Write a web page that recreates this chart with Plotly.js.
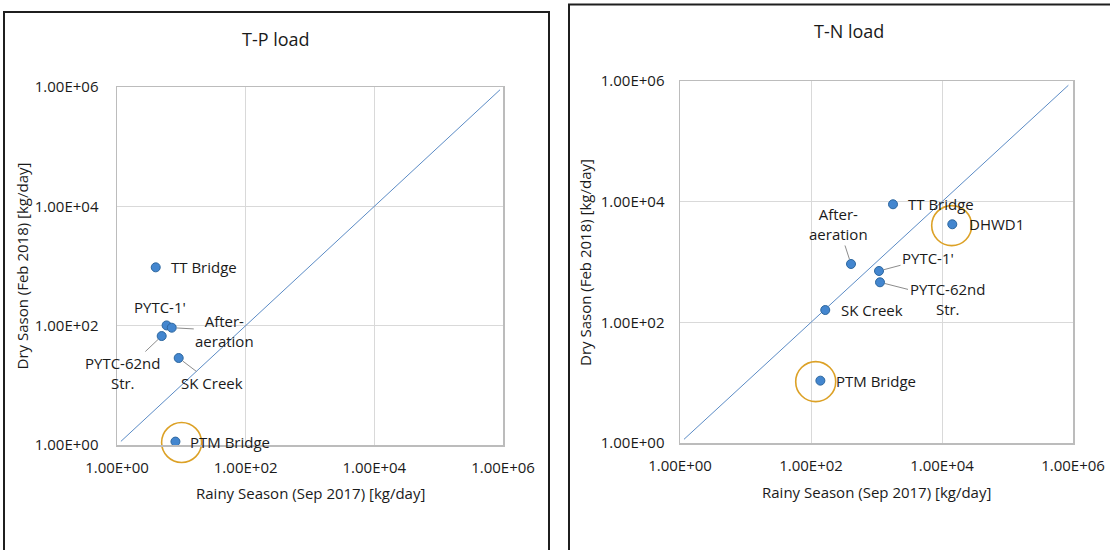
<!DOCTYPE html>
<html>
<head>
<meta charset="utf-8">
<script src="https://cdn.plot.ly/plotly-3.0.1.min.js"></script>
<style>
html,body{margin:0;padding:0;background:#fff;}
#chart{width:1110px;height:550px;}
</style>
</head>
<body>
<div id="chart"></div>
<script>
// ---- data (kg/day) ----
const tpSites  = ['TT Bridge', "PYTC-1'", 'After-aeration', 'PYTC-62nd Str.', 'SK Creek', 'PTM Bridge'];
const tpLabels = ['TT Bridge', "PYTC-1'", 'After-<br>aeration', 'PYTC-62nd<br>Str.', 'SK Creek', 'PTM Bridge'];
const tpRainy  = [4.0, 5.9, 7.1, 4.95, 9.1, 8.1];
const tpDry    = [950, 101, 92.5, 67, 28.7, 1.14];

const tnSites  = ['TT Bridge', 'DHWD1', 'After-aeration', "PYTC-1'", 'PYTC-62nd Str.', 'SK Creek', 'PTM Bridge'];
const tnLabels = ['TT Bridge', 'DHWD1', 'After-<br>aeration', "PYTC-1'", 'PYTC-62nd<br>Str.', 'SK Creek', 'PTM Bridge'];
const tnRainy  = [1786, 14360, 408, 1092, 1131, 165, 139];
const tnDry    = [9050, 4220, 927, 710, 461, 160, 10.8];

// highlighted sites (circled)
const tpHighlightRainy = [10.1];
const tpHighlightDry   = [1.1];
const tnHighlightRainy = [118, 14060];
const tnHighlightDry   = [10.4, 4015];

// 1:1 reference line
const tpDiag = [1.15, 9.0e5];
const tnDiag = [1.15, 8.5e5];

const tickVals   = [1, 100, 1e4, 1e6];
const tickLabels = ['1.00E+00', '1.00E+02', '1.00E+04', '1.00E+06'];

// ---- label placement (style only, pixel offsets) ----
const tpLabelStyle = [
  {mode:'side', dx:13, dy:0},
  {mode:'free', dx:-7, dy:-18},
  {mode:'arrow', dx:53, dy:3},
  {mode:'arrow', dx:-39, dy:37},
  {mode:'arrow', dx:33, dy:25},
  {mode:'side', dx:13, dy:0}
];
const tnLabelStyle = [
  {mode:'side', dx:13, dy:0},
  {mode:'side', dx:15, dy:0},
  {mode:'arrow', dx:-13, dy:-40},
  {mode:'arrow', dx:49, dy:-13},
  {mode:'arrow', dx:67, dy:17},
  {mode:'side', dx:14, dy:0},
  {mode:'side', dx:14, dy:0}
];

const W = 1110, H = 550;
const TXT = '#1a1a1a';
const FONT = 'Open Sans, Noto Sans, sans-serif';
const dotColor = '#4386cf', dotEdge = '#2d679f';
const diagColor = '#5b8bc5';
const ringColor = '#dca126';

function px(x){ return x / W; }
function py(y){ return 1 - y / H; }

function buildTraces(xr, yr, rainy, dry, hiR, hiD, diag, names){
  return [
    {x: diag, y: diag, xaxis: xr, yaxis: yr, mode: 'lines', type: 'scatter',
     line: {color: diagColor, width: 1}, hoverinfo: 'skip', showlegend: false},
    {x: rainy, y: dry, xaxis: xr, yaxis: yr, mode: 'markers', type: 'scatter', text: names,
     cliponaxis: false,
     marker: {color: dotColor, size: 9, line: {color: dotEdge, width: 1}}, showlegend: false},
    {x: hiR, y: hiD, xaxis: xr, yaxis: yr, mode: 'markers', type: 'scatter',
     cliponaxis: false,
     marker: {symbol: 'circle-open', size: 40, color: ringColor, line: {width: 1.6, color: ringColor}},
     hoverinfo: 'skip', showlegend: false}
  ];
}

function buildLabels(xr, yr, rainy, dry, labels, style){
  return labels.map((t, i) => {
    const s = style[i];
    const base = {xref: xr, yref: yr, x: Math.log10(rainy[i]), y: Math.log10(dry[i]), text: t,
      font: {family: FONT, size: 15, color: TXT}};
    if (s.mode === 'arrow') {
      return Object.assign(base, {showarrow: true, arrowhead: 0, arrowwidth: 1, arrowcolor: '#8c8c8c',
        ax: s.dx, ay: s.dy, standoff: 5, align: 'center'});
    } else if (s.mode === 'side') {
      return Object.assign(base, {showarrow: false, xanchor: 'left', yanchor: 'middle', xshift: s.dx, yshift: -s.dy});
    } else {
      return Object.assign(base, {showarrow: false, xanchor: 'center', yanchor: 'middle', xshift: s.dx, yshift: -s.dy, align: 'center'});
    }
  });
}

function axisCommon(){
  return {
    type: 'log', range: [0, 6], tickmode: 'array', tickvals: tickVals, ticktext: tickLabels,
    showgrid: true, gridcolor: '#d9d9d9', gridwidth: 1, zeroline: false,
    showline: true, linecolor: '#bcbcbc', linewidth: 1.5, mirror: true,
    ticks: '', tickfont: {family: FONT, size: 15, color: TXT}, fixedrange: true
  };
}

const data = []
  .concat(buildTraces('x', 'y', tpRainy, tpDry, tpHighlightRainy, tpHighlightDry, tpDiag, tpSites))
  .concat(buildTraces('x2', 'y2', tnRainy, tnDry, tnHighlightRainy, tnHighlightDry, tnDiag, tnSites));

const annotations = []
  .concat(buildLabels('x', 'y', tpRainy, tpDry, tpLabels, tpLabelStyle))
  .concat(buildLabels('x2', 'y2', tnRainy, tnDry, tnLabels, tnLabelStyle))
  .concat([
    {xref:'paper', yref:'paper', x: px(276), y: py(39.5), text: 'T-P load', showarrow: false,
     xanchor:'center', yanchor:'middle', font:{family: FONT, size: 18, color: TXT}},
    {xref:'paper', yref:'paper', x: px(849), y: py(31.5), text: 'T-N load', showarrow: false,
     xanchor:'center', yanchor:'middle', font:{family: FONT, size: 18, color: TXT}},
    {xref:'paper', yref:'paper', x: px(310.5), y: py(493), text: 'Rainy Season (Sep 2017) [kg/day]', showarrow: false,
     xanchor:'center', yanchor:'middle', font:{family: FONT, size: 15, color: TXT}},
    {xref:'paper', yref:'paper', x: px(876), y: py(492), text: 'Rainy Season (Sep 2017) [kg/day]', showarrow: false,
     xanchor:'center', yanchor:'middle', font:{family: FONT, size: 15, color: TXT}},
    {xref:'paper', yref:'paper', x: px(21), y: py(266.5), text: 'Dry Sason (Feb 2018) [kg/day]', showarrow: false,
     textangle: -90, xanchor:'center', yanchor:'middle', font:{family: FONT, size: 15, color: TXT}},
    {xref:'paper', yref:'paper', x: px(585), y: py(262), text: 'Dry Sason (Feb 2018) [kg/day]', showarrow: false,
     textangle: -90, xanchor:'center', yanchor:'middle', font:{family: FONT, size: 15, color: TXT}}
  ]);

const layout = {
  width: W, height: H,
  margin: {l: 0, r: 0, t: 0, b: 0},
  paper_bgcolor: '#ffffff', plot_bgcolor: '#ffffff',
  font: {family: FONT, color: TXT},
  showlegend: false,
  xaxis: Object.assign(axisCommon(), {domain: [px(117), px(503)], anchor: 'y', ticklabelstandoff: 8}),
  yaxis: Object.assign(axisCommon(), {domain: [py(445), py(87)], anchor: 'x', ticklabelstandoff: 14}),
  xaxis2: Object.assign(axisCommon(), {domain: [px(680), px(1073)], anchor: 'y2', ticklabelstandoff: 8}),
  yaxis2: Object.assign(axisCommon(), {domain: [py(443), py(81)], anchor: 'x2', ticklabelstandoff: 11}),
  annotations: annotations,
  shapes: [
    {type:'rect', xref:'paper', yref:'paper', x0: px(4), x1: px(549), y0: py(560), y1: py(12),
     line:{color:'#1f1f1f', width: 2}, fillcolor:'rgba(0,0,0,0)', layer:'above'},
    {type:'rect', xref:'paper', yref:'paper', x0: px(569), x1: px(1130), y0: py(560), y1: py(4.5),
     line:{color:'#1f1f1f', width: 2}, fillcolor:'rgba(0,0,0,0)', layer:'above'}
  ]
};

Plotly.newPlot('chart', data, layout, {staticPlot: true, displayModeBar: false});
</script>
</body>
</html>
